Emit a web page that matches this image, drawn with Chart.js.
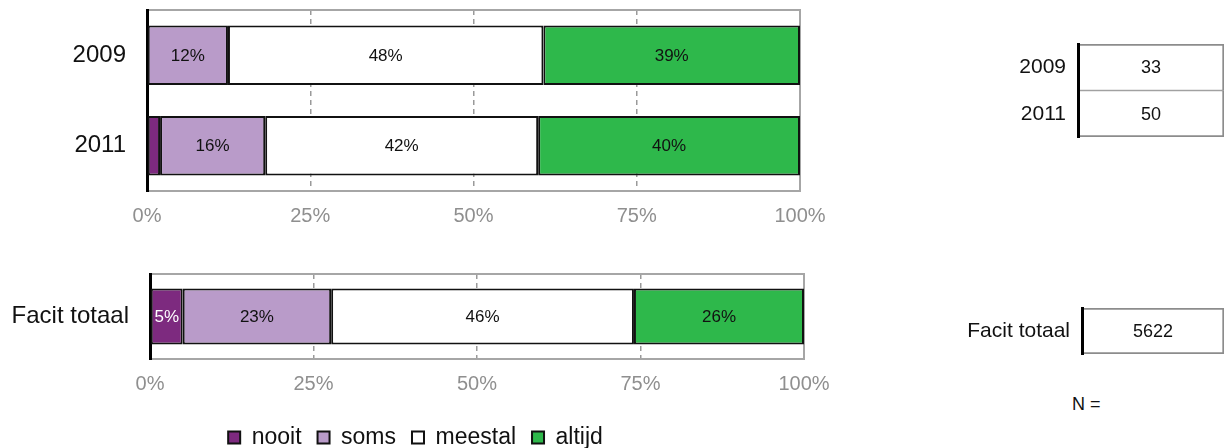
<!DOCTYPE html>
<html>
<head>
<meta charset="utf-8">
<script src="https://cdn.jsdelivr.net/npm/chart.js@4.4.0/dist/chart.umd.min.js"></script>
<style>
  body {
    margin: 0;
    width: 1232px;
    height: 448px;
    overflow: hidden;
    background: #fff;
    position: relative;
    font-family: "Liberation Sans", Arial, sans-serif;
  }
  canvas {
    position: absolute;
  }
  #nLabel {
    position: absolute;
    left: 1072px;
    top: 394px;
    font-size: 18px;
    color: #111;
  }
</style>
</head>
<body>
<!-- the top chart also carries the legend at the very bottom of the page -->
<canvas id="topChart" width="840" height="459" style="left:0;top:0"></canvas>
<canvas id="totalChart" width="840" height="135" style="left:0;top:264px"></canvas>
<canvas id="topTable" width="292" height="180" style="left:940px;top:0"></canvas>
<canvas id="totalTable" width="292" height="110" style="left:940px;top:264px"></canvas>
<div id="nLabel">N =</div>
<script>
// Data (percent per answer)
const years = ["2009", "2011"];
const nooitYears = [0, 2.0];
const somsYears = [12.4, 16.1];
const meestalYears = [48.3, 41.8];
const altijdYears = [39.3, 40.1];

const totalLabel = ["Facit totaal"];
const nooitTotal = [5.0];
const somsTotal = [22.7];
const meestalTotal = [46.3];
const altijdTotal = [26.0];

const answers = ["nooit", "soms", "meestal", "altijd"];
const xTicks = [0, 25, 50, 75, 100];

// N per row for the little tables on the right
const nYears = [33, 50];
const nTotal = [5622];

const answerColors = ["#7d2a7f", "#b99bc9", "#ffffff", "#2eb84b"];
const fontFamily = '"Liberation Sans", Arial, sans-serif';

Chart.defaults.font.family = fontFamily;

// gray frame round the plot (top, right, bottom)
const frame = {
  id: "frame",
  beforeDatasetsDraw(chart) {
    const ctx = chart.ctx;
    const a = chart.chartArea;
    ctx.save();
    ctx.strokeStyle = "#a6a6a6";
    ctx.lineWidth = 2;
    ctx.beginPath();
    ctx.moveTo(a.left + 2, a.top);
    ctx.lineTo(a.right, a.top);
    ctx.lineTo(a.right, a.bottom);
    ctx.lineTo(a.left + 2, a.bottom);
    ctx.stroke();
    ctx.restore();
  },
};

// percent text in the middle of each segment (skip the tiny ones)
const barLabels = {
  id: "barLabels",
  afterDatasetsDraw(chart) {
    const ctx = chart.ctx;
    ctx.save();
    ctx.font = "17px " + fontFamily;
    ctx.textAlign = "center";
    ctx.textBaseline = "middle";
    chart.data.datasets.forEach((ds, i) => {
      chart.getDatasetMeta(i).data.forEach((bar, j) => {
        const v = ds.data[j];
        if (v < 4) return;
        ctx.fillStyle = i === 0 ? "#ffffff" : "#111111";
        ctx.fillText(Math.round(v) + "%", (bar.x + bar.base) / 2, bar.y + 1);
      });
    });
    ctx.restore();
  },
};

// N values inside the table cells
const cellText = {
  id: "cellText",
  afterDatasetsDraw(chart) {
    const ctx = chart.ctx;
    const ds = chart.data.datasets[0];
    ctx.save();
    ctx.font = "18px " + fontFamily;
    ctx.textAlign = "center";
    ctx.textBaseline = "middle";
    ctx.fillStyle = "#111111";
    chart.getDatasetMeta(0).data.forEach((bar, j) => {
      ctx.fillText(ds.nText[j], (bar.x + bar.base) / 2, bar.y + 1);
    });
    ctx.restore();
  },
};

function stackedBars(id, labels, series, box) {
  return new Chart(document.getElementById(id), {
    type: "bar",
    data: {
      labels: labels,
      datasets: answers.map((name, i) => ({
        label: name,
        data: series[i],
        backgroundColor: answerColors[i],
        borderColor: "#111111",
        borderWidth: 2,
        borderSkipped: false,
        barPercentage: 0.66,
        categoryPercentage: 1,
      })),
    },
    options: {
      indexAxis: "y",
      responsive: false,
      animation: false,
      layout: { padding: box.padding },
      plugins: {
        tooltip: { enabled: false },
        legend: box.legend
          ? {
              position: "bottom",
              labels: {
                boxWidth: 12,
                boxHeight: 12,
                padding: 16,
                color: "#111111",
                font: { size: 23 },
              },
            }
          : { display: false },
      },
      scales: {
        x: {
          stacked: true,
          min: 0,
          max: 100,
          afterBuildTicks: (s) => {
            s.ticks = xTicks.map((v) => ({ value: v }));
          },
          afterFit: (s) => {
            s.height = box.xHeight;
            s.paddingLeft = 0;
            s.paddingRight = 0;
          },
          grid: {
            color: (c) =>
              c.tick && (c.tick.value === 0 || c.tick.value === 100)
                ? "rgba(0,0,0,0)"
                : "#9a9a9a",
            lineWidth: 1.5,
            drawTicks: false,
          },
          border: { display: false, dash: [5, 4] },
          ticks: {
            padding: 13,
            color: "#8f8f8f",
            font: { size: 20 },
            callback: (v) => v + "%",
          },
        },
        y: {
          stacked: true,
          afterFit: (s) => {
            s.width = box.yWidth;
            s.paddingTop = 0;
            s.paddingBottom = 0;
          },
          grid: { display: false, drawTicks: false },
          border: { color: "#000000", width: 3 },
          ticks: { padding: 21, color: "#111111", font: { size: 24 } },
        },
      },
    },
    plugins: [frame, barLabels],
  });
}

function nTable(id, labels, values, box) {
  const last = labels.length - 1;
  return new Chart(document.getElementById(id), {
    type: "bar",
    data: {
      labels: labels,
      datasets: [
        {
          // every cell spans the full width, the N is written inside
          data: labels.map(() => 1),
          nText: values,
          backgroundColor: "#ffffff",
          borderColor: "#8c8c8c",
          borderWidth: (c) => ({
            left: 0,
            right: 2,
            top: c.dataIndex === 0 ? 2 : 1,
            bottom: c.dataIndex === last ? 2 : 1,
          }),
          borderSkipped: false,
          barPercentage: 1,
          categoryPercentage: 1,
        },
      ],
    },
    options: {
      indexAxis: "y",
      responsive: false,
      animation: false,
      layout: { padding: box.padding },
      plugins: { legend: { display: false }, tooltip: { enabled: false } },
      scales: {
        x: { display: false, min: 0, max: 1 },
        y: {
          afterFit: (s) => {
            s.width = box.yWidth;
            s.paddingTop = 0;
            s.paddingBottom = 0;
          },
          grid: { display: false, drawTicks: false },
          // draw the black left line over the white cells
          border: { color: "#000000", width: 3, z: 1 },
          ticks: { padding: 12, color: "#111111", font: { size: 21 } },
        },
      },
    },
    plugins: [cellText],
  });
}

stackedBars("topChart", years, [nooitYears, somsYears, meestalYears, altijdYears], {
  padding: { top: 10, right: 40, left: 31, bottom: 0 },
  yWidth: 116,
  xHeight: 219,
  legend: true,
});

stackedBars("totalChart", totalLabel, [nooitTotal, somsTotal, meestalTotal, altijdTotal], {
  padding: { top: 10, right: 36, left: 0, bottom: 0 },
  yWidth: 150,
  xHeight: 40,
  legend: false,
});

nTable("topTable", years, nYears, {
  padding: { top: 44, right: 8, left: 0, bottom: 43 },
  yWidth: 138,
});

nTable("totalTable", totalLabel, nTotal, {
  padding: { top: 44, right: 8, left: 0, bottom: 20 },
  yWidth: 142,
});
</script>
</body>
</html>
